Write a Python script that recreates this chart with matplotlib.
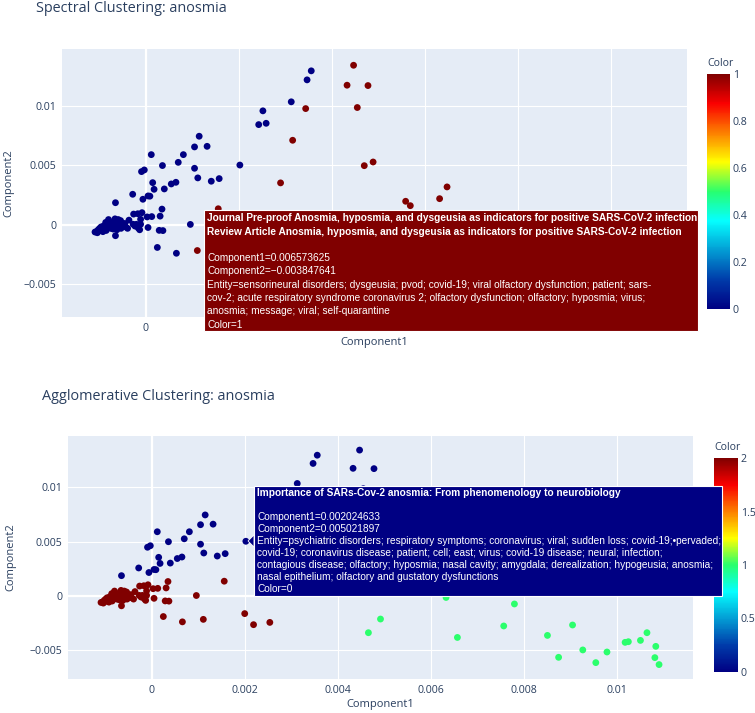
import matplotlib
matplotlib.use("Agg")
import matplotlib.pyplot as plt
import numpy as np
from matplotlib.colors import LinearSegmentedColormap
from matplotlib.patches import Rectangle, Polygon

# ---------------- data ----------------
comp1 = [
    # upper right
    0.00356, 0.00347, 0.00313, 0.00252, 0.00243, 0.00259, 0.002024633,
    0.00447, 0.00433, 0.00478, 0.00455, 0.00344, 0.00316, 0.00290,
    0.00470, 0.00489, 0.00559, 0.00569, 0.00632, 0.00648,
    # left upper arm
    0.00115, 0.00105, 0.00132, 0.00012, 0.00081, 0.00070, 0.00036, 0.00105,
    -0.00009, -0.00003, 0.00112, 0.00141, 0.00158, 0.00015, 0.00065, 0.00055,
    0.00018, 0.00040, -0.00028, 0.00005, 0.00009, -0.00006, -0.00065,
    # near origin
    0.00035, 0.00031, 0.00013, 0.00003, -0.00008, -0.00017, -0.00026, -0.00036,
    -0.00011, 0.00096, 0.00005, 0.00029, 0.00037, 0.00025, 0.00066, -0.00065,
    # dense cluster
    -0.00109, -0.00105, -0.00102, -0.00099, -0.00096, -0.00093, -0.00090, -0.00087,
    -0.00085, -0.00082, -0.00080, -0.00077, -0.00075, -0.00072, -0.00069, -0.00066,
    -0.00063, -0.00060, -0.00057, -0.00054, -0.00052, -0.00049, -0.00046, -0.00043,
    -0.00039, -0.00027, -0.00023, -0.00020, -0.00016, -0.00013, -0.00059, -0.00053,
    -0.00079, -0.00086, -0.00097, -0.00104, -0.00092, -0.00070, -0.00062, -0.00011,
    -0.00101, -0.00094, -0.00088, -0.00068, -0.00058, -0.00045,
    # lower middle
    0.00156, 0.00111, 0.00200, 0.00219, 0.00254,
    # lower right
    0.00466, 0.00492, 0.00633, 0.00780, 0.00757, 0.006573625, 0.00851, 0.00905,
    0.00927, 0.00875, 0.00979, 0.00955, 0.01018, 0.01025, 0.01051, 0.01065,
    0.01084, 0.01082, 0.01091,
]
comp2 = [
    0.01296, 0.01220, 0.01035, 0.00959, 0.00843, 0.00854, 0.005021897,
    0.01343, 0.01175, 0.01172, 0.00987, 0.00978, 0.00711, 0.00352,
    0.00497, 0.00528, 0.00197, 0.00160, 0.00219, 0.00318,
    0.00745, 0.00655, 0.00660, 0.00590, 0.00590, 0.00525, 0.00498, 0.00475,
    0.00447, 0.00461, 0.00394, 0.00366, 0.00388, 0.00354, 0.00357, 0.00343,
    0.00298, 0.00301, 0.00256, 0.00242, 0.00240, 0.00214, 0.00185,
    0.00131, 0.00072, 0.00068, 0.00065, 0.00101, 0.00092, 0.00089, 0.00038,
    0.00045, 0.00002, -0.00024, -0.00048, -0.00050, -0.00192, -0.00241, -0.00093,
    -0.00062, -0.00056, -0.00043, -0.00031, -0.00019, -0.00034, -0.00009, -0.00028,
    -0.00049, 0.00003, 0.00043, -0.00012, -0.00031, 0.00015, -0.00006, 0.00049,
    0.00025, 0.00003, -0.00019, 0.00034, 0.00012, -0.00012, 0.00003, -0.00019,
    -0.00031, 0.00003, -0.00012, 0.00003, -0.00028, -0.00043, 0.00043, -0.00031,
    0.00019, 0.00019, -0.00049, -0.00068, -0.00059, -0.00037, -0.00043, 0.00003,
    -0.00052, -0.00040, -0.00015, 0.00030, -0.00005, 0.00010,
    0.00134, -0.00218, -0.00165, -0.00267, -0.00246,
    -0.00341, -0.00215, -0.00016, -0.00076, -0.00279, -0.003847641, -0.00366, -0.00270,
    -0.00500, -0.00568, -0.00519, -0.00617, -0.00430, -0.00424, -0.00412, -0.00341,
    -0.00467, -0.00571, -0.00635,
]
spectral = ([0] * 7 + [1] * 7 + [1] * 6 + [0] * 23 + [0] * 16 + [0] * 46
            + [1] * 5 + [1] * 19)
agglo = ([0] * 7 + [0] * 7 + [1] * 6 + [0] * 23 + [2] * 16 + [2] * 46
         + [2] * 5 + [1] * 19)

x_ticks = [0, 0.002, 0.004, 0.006, 0.008, 0.01]
x_ticklabels = ["0", "0.002", "0.004", "0.006", "0.008", "0.01"]
# in the top chart only "0" is visible (the rest sit under the hover label)
x_ticklabels_top = ["0", "", "", "", "", ""]
y_ticks = [-0.005, 0, 0.005, 0.01]
y_ticklabels = ["\u22120.005", "0", "0.005", "0.01"]
cb1_ticks = [0, 0.2, 0.4, 0.6, 0.8, 1]
cb1_labels = ["0", "0.2", "0.4", "0.6", "0.8", "1"]
cb2_ticks = [0, 0.5, 1, 1.5, 2]
cb2_labels = ["0", "0.5", "1", "1.5", "2"]

hover1_bold = [
    "Journal Pre-proof Anosmia, hyposmia, and dysgeusia as indicators for positive SARS-CoV-2 infection",
    "Review Article Anosmia, hyposmia, and dysgeusia as indicators for positive SARS-CoV-2 infection",
]
hover1_body = [
    "Component1=0.006573625",
    "Component2=\u22120.003847641",
    "Entity=sensorineural disorders; dysgeusia; pvod; covid-19; viral olfactory dysfunction; patient; sars-",
    "cov-2; acute respiratory syndrome coronavirus 2; olfactory dysfunction; olfactory; hyposmia; virus;",
    "anosmia; message; viral; self-quarantine",
    "Color=1",
]
hover2_bold = [
    "Importance of SARs-Cov-2 anosmia: From phenomenology to neurobiology",
]
hover2_body = [
    "Component1=0.002024633",
    "Component2=0.005021897",
    "Entity=psychiatric disorders; respiratory symptoms; coronavirus; viral; sudden loss; covid-19;\u2022pervaded;",
    "covid-19; coronavirus disease; patient; cell; east; virus; covid-19 disease; neural; infection;",
    "contagious disease; olfactory; hyposmia; nasal cavity; amygdala; derealization; hypogeusia; anosmia;",
    "nasal epithelium; olfactory and gustatory dysfunctions",
    "Color=0",
]

# ---------------- style ----------------
W, H = 755, 713
TXT = "#2a3f5f"
BG = "#E5ECF6"
FONT = ["Open Sans", "DejaVu Sans"]
HFONT = ["Liberation Sans", "DejaVu Sans"]
TICK_FS = 7.6

jet = LinearSegmentedColormap.from_list("pjet", [
    (0.0, (0 / 255, 0 / 255, 131 / 255)),
    (0.125, (0 / 255, 60 / 255, 170 / 255)),
    (0.375, (5 / 255, 255 / 255, 255 / 255)),
    (0.5, (40 / 255, 255 / 255, 110 / 255)),
    (0.625, (255 / 255, 255 / 255, 0 / 255)),
    (0.875, (250 / 255, 0 / 255, 0 / 255)),
    (1.0, (128 / 255, 0 / 255, 0 / 255)),
])


def fx(x):
    return x / W


def fy(y):
    return 1 - y / H


fig = plt.figure(figsize=(W / 100, H / 100), dpi=100)
fig.patch.set_facecolor("white")

ax1 = fig.add_axes([fx(62), fy(317), 625 / W, 268 / H])
ax2 = fig.add_axes([fx(68), fy(679), 625 / W, 243 / H])
cax1 = fig.add_axes([fx(707), fy(309), 23 / W, 235 / H])
cax2 = fig.add_axes([fx(714), fy(672), 24 / W, 214 / H])

c1 = np.array(comp1)
c2 = np.array(comp2)


def style_ax(ax, ylim, xlabels):
    ax.set_facecolor(BG)
    ax.set_xlim(-0.0018, 0.01164)
    ax.set_ylim(*ylim)
    for s in ax.spines.values():
        s.set_visible(False)
    ax.set_xticks(x_ticks)
    ax.set_xticklabels(xlabels)
    ax.set_yticks(y_ticks)
    ax.set_yticklabels(y_ticklabels)
    ax.tick_params(length=0, labelsize=TICK_FS, labelcolor=TXT, pad=4)
    for lab in ax.get_xticklabels() + ax.get_yticklabels():
        lab.set_family(FONT)
    ax.grid(True, color="white", lw=0.8)
    ax.set_axisbelow(True)
    ax.axhline(0, color="white", lw=1.6, zorder=1)
    ax.axvline(0, color="white", lw=1.6, zorder=1)


style_ax(ax1, (-0.00778, 0.0148), x_ticklabels_top)
style_ax(ax2, (-0.00768, 0.01473), x_ticklabels)

sc1 = ax1.scatter(c1, c2, c=spectral, cmap=jet, vmin=0, vmax=1, s=24,
                  linewidths=0, zorder=3)
sc2 = ax2.scatter(c1, c2, c=agglo, cmap=jet, vmin=0, vmax=2, s=24,
                  linewidths=0, zorder=3)


def style_cb(cb, cax, ticks, labels):
    cb.outline.set_visible(False)
    cb.set_ticks(ticks)
    cb.set_ticklabels(labels)
    cax.tick_params(length=0, labelsize=TICK_FS, labelcolor=TXT, pad=2)
    for lab in cax.get_yticklabels():
        lab.set_family(FONT)


cb1 = fig.colorbar(sc1, cax=cax1)
style_cb(cb1, cax1, cb1_ticks, cb1_labels)
cb2 = fig.colorbar(sc2, cax=cax2)
style_cb(cb2, cax2, cb2_ticks, cb2_labels)

# titles and labels
fig.text(fx(36), fy(8), "Spectral Clustering: anosmia", fontsize=10.4,
         color=TXT, family=FONT, ha="left", va="center")
fig.text(fx(42), fy(397), "Agglomerative Clustering: anosmia", fontsize=10.4,
         color=TXT, family=FONT, ha="left", va="center")
fig.text(fx(374), fy(343), "Component1", fontsize=8, color=TXT, family=FONT,
         ha="center", va="center")
fig.text(fx(380), fy(705), "Component1", fontsize=8, color=TXT, family=FONT,
         ha="center", va="center")
fig.text(fx(9), fy(183), "Component2", fontsize=8, color=TXT, family=FONT,
         ha="center", va="center", rotation=90)
fig.text(fx(11), fy(557), "Component2", fontsize=8, color=TXT, family=FONT,
         ha="center", va="center", rotation=90)
fig.text(fx(707), fy(63), "Color", fontsize=TICK_FS, color=TXT, family=FONT,
         ha="left", va="center")
fig.text(fx(714), fy(448), "Color", fontsize=TICK_FS, color=TXT, family=FONT,
         ha="left", va="center")


# hover boxes
def hover(x0, y0, x1, y1, color, bold, body, tx, ty0, step, fs):
    rect = Rectangle((fx(x0), fy(y1)), (x1 - x0) / W, (y1 - y0) / H,
                     transform=fig.transFigure, facecolor=color,
                     edgecolor="#ffffff", lw=0.8, alpha=1, zorder=20)
    fig.add_artist(rect)
    lines = [(t, "bold") for t in bold] + [("", "normal")] + \
            [(t, "normal") for t in body]
    for i, (t, w) in enumerate(lines):
        if not t:
            continue
        fig.text(fx(tx), fy(ty0 + i * step), t, fontsize=fs, color="white",
                 family=HFONT, weight=w, ha="left", va="center", zorder=21)


hover(204, 210, 698, 331, (128 / 255, 0, 0), hover1_bold, hover1_body,
      207, 218.3, 13.3, 7.25)

arrow = Polygon([(fx(254), fy(535)), (fx(254), fy(547)), (fx(248), fy(541))],
                closed=True, transform=fig.transFigure,
                facecolor=(0, 0, 131 / 255), edgecolor="white", lw=0.6,
                zorder=19)
fig.add_artist(arrow)
hover(254, 486, 722, 596, (0, 0, 131 / 255), hover2_bold, hover2_body,
      257, 493.3, 12.0, 7.27)

fig.savefig("out.png", dpi=100)
